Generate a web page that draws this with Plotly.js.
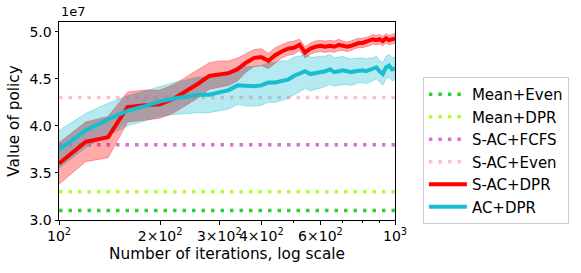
<!DOCTYPE html>
<html>
<head>
<meta charset="utf-8">
<script src="https://cdn.plot.ly/plotly-3.0.1.min.js"></script>
<style>html,body{margin:0;padding:0;background:#fff;}#chart{width:581px;height:273px;}</style>
</head>
<body>
<div id="chart"></div>
<script>
// iterations (x)
const iterations = [100,120,140,160,180,200,220,240,260,280,300,320,340,360,380,400,420,440,460,480,500,520,540,560,580,600,620,640,660,680,700,720,740,760,780,800,820,840,860,880,900,920,940,960,980,1000];
// S-AC+DPR mean and half-width (units of 1e7)
const sacDprMean = [3.60,3.83,3.88,4.20,4.22,4.23,4.29,4.37,4.45,4.53,4.55,4.56,4.60,4.67,4.72,4.73,4.69,4.75,4.79,4.82,4.83,4.86,4.78,4.82,4.84,4.85,4.84,4.85,4.84,4.86,4.85,4.84,4.85,4.87,4.88,4.88,4.89,4.90,4.92,4.91,4.92,4.90,4.93,4.91,4.92,4.93];
const sacDprSpread = [0.22,0.21,0.22,0.16,0.16,0.15,0.15,0.15,0.15,0.14,0.14,0.13,0.12,0.10,0.09,0.09,0.08,0.08,0.07,0.07,0.07,0.06,0.06,0.06,0.06,0.06,0.06,0.06,0.06,0.06,0.05,0.05,0.05,0.05,0.05,0.05,0.05,0.05,0.05,0.05,0.05,0.05,0.05,0.05,0.05,0.05];
// AC+DPR mean and half-width
const acDprMean = [3.75,3.95,4.07,4.16,4.21,4.26,4.29,4.31,4.33,4.33,4.36,4.38,4.43,4.42,4.42,4.43,4.46,4.46,4.48,4.49,4.53,4.55,4.58,4.55,4.56,4.57,4.58,4.60,4.57,4.58,4.59,4.58,4.57,4.58,4.59,4.59,4.58,4.59,4.60,4.62,4.58,4.55,4.62,4.64,4.60,4.61];
const acDprSpread = [0.20,0.18,0.17,0.16,0.16,0.16,0.17,0.18,0.19,0.19,0.20,0.20,0.20,0.21,0.21,0.21,0.21,0.21,0.21,0.20,0.20,0.19,0.18,0.18,0.17,0.17,0.16,0.16,0.15,0.15,0.15,0.14,0.14,0.14,0.13,0.13,0.13,0.13,0.12,0.12,0.12,0.12,0.12,0.12,0.12,0.12];
// constant baselines
const baselineNames = ["Mean+Even","Mean+DPR","S-AC+FCFS","S-AC+Even"];
const baselineValues = [3.1,3.3,3.8,4.3];
// tick labels
const xTickVals = [100,200,300,400,600,1000];
const xTickText = ["10<sup>2</sup>","2×10<sup>2</sup>","3×10<sup>2</sup>","4×10<sup>2</sup>","6×10<sup>2</sup>","10<sup>3</sup>"];
const xMinorVals = [500,700,800,900];
const yTickVals = [3.0,3.5,4.0,4.5,5.0];

const baselineColors = ["#32cd32","#adff2f","#da70d6","#ffc0cb"];
const FONT = "DejaVu Sans, sans-serif";

const traces = [];
baselineNames.forEach((nm,i)=>{
  traces.push({x:[iterations[0], iterations[iterations.length-1]], y:[baselineValues[i],baselineValues[i]],
    mode:"lines", name:nm, line:{color:baselineColors[i], width:3.5, dash:"3.5px,6px"}, hoverinfo:"skip"});
});
function band(mean, spread, fillc, linec){
  const lo = mean.map((m,i)=>m-spread[i]);
  const hi = mean.map((m,i)=>m+spread[i]);
  return {lo, hi, trace:{x:iterations.concat(iterations.slice().reverse()), y:hi.concat(lo.slice().reverse()),
    mode:"lines", fill:"toself", fillcolor:fillc, line:{color:linec, width:0.8}, showlegend:false, hoverinfo:"skip"}};
}
const ac = band(acDprMean, acDprSpread, "rgba(23,190,207,0.32)", "rgba(23,190,207,0.45)");
const sac = band(sacDprMean, sacDprSpread, "rgba(255,0,0,0.33)", "rgba(255,0,0,0.4)");
traces.push(ac.trace);
traces.push(sac.trace);
// overlap region
const ovLo = iterations.map((_,i)=>Math.max(ac.lo[i], sac.lo[i]));
const ovHi = iterations.map((_,i)=>Math.max(Math.min(ac.hi[i], sac.hi[i]), ovLo[i]));
traces.push({x:iterations.concat(iterations.slice().reverse()), y:ovHi.concat(ovLo.slice().reverse()),
  mode:"lines", fill:"toself", fillcolor:"rgba(150,155,168,0.6)", line:{width:0}, showlegend:false, hoverinfo:"skip"});
traces.push({x:iterations, y:sacDprMean, mode:"lines", name:"S-AC+DPR", line:{color:"#ff0000", width:4}});
traces.push({x:iterations, y:acDprMean, mode:"lines", name:"AC+DPR", line:{color:"#17becf", width:4}});

const layout = {
  width:581, height:273,
  margin:{l:58.5, r:182, t:22, b:53, pad:0},
  paper_bgcolor:"#fff", plot_bgcolor:"#fff",
  font:{family:FONT, color:"#000", size:14},
  xaxis:{type:"log", range:[2,3], tickmode:"array", tickvals:xTickVals, ticktext:xTickText, tickangle:0,
    ticks:"outside", ticklen:3.5, tickwidth:1, tickcolor:"#000", showgrid:false, zeroline:false,
    showline:true, linecolor:"#000", linewidth:1, mirror:true,
    tickfont:{family:FONT, size:14},
    minor:{tickvals:xMinorVals, ticks:"outside", ticklen:2, tickcolor:"#000", showgrid:false},
    title:{text:"Number of iterations, log scale", font:{family:FONT, size:15.3}, standoff:4}},
  yaxis:{range:[3.0,5.103], tickmode:"array", tickvals:yTickVals, tickformat:".1f",
    ticks:"outside", ticklen:3.5, tickwidth:1, tickcolor:"#000", showgrid:false, zeroline:false,
    showline:true, linecolor:"#000", linewidth:1, mirror:true,
    tickfont:{family:FONT, size:14},
    title:{text:"Value of policy", font:{family:FONT, size:15.3}, standoff:6}},
  legend:{x:1.083, y:0.722, xanchor:"left", yanchor:"top", bordercolor:"#cccccc", borderwidth:1,
    bgcolor:"#fff", font:{family:FONT, size:15}, tracegroupgap:0, itemwidth:38},
  annotations:[{text:"1e7", xref:"paper", yref:"paper", x:0, y:1, xanchor:"left", yanchor:"bottom",
    showarrow:false, font:{family:FONT, size:13}, yshift:1}],
  showlegend:true
};
Plotly.newPlot("chart", traces, layout, {staticPlot:true, displayModeBar:false});
</script>
</body>
</html>
